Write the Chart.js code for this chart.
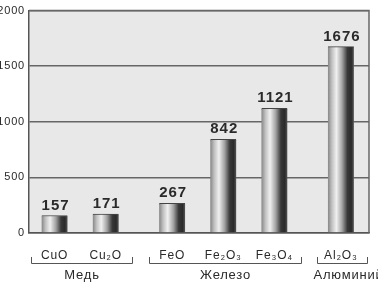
<!DOCTYPE html>
<html>
<head>
<meta charset="utf-8">
<script src="https://cdn.jsdelivr.net/npm/chart.js@4/dist/chart.umd.min.js"></script>
<style>
  html, body { margin: 0; padding: 0; background: #fff; }
  #wrap { width: 378px; height: 282px; position: relative; }
</style>
</head>
<body>
<div id="wrap"><canvas id="chart"></canvas></div>
<script>
/* Oxide bar chart, grouped by metal */

const categories = ['CuO', 'Cu₂O', 'FeO', 'Fe₂O₃', 'Fe₃O₄', 'Al₂O₃'];
const values     = [157, 171, 267, 842, 1121, 1676];
const groupOf    = [0, 0, 1, 1, 1, 2];
const groups     = ['Медь', 'Железо', 'Алюминий'];
const yTicks     = [0, 500, 1000, 1500, 2000];

const GROUP_GAP = 0.3;
const FONT      = '"Liberation Sans", Arial, sans-serif';
const INK       = '#2a2a2a';

// bar slot = index plus a little extra room between metal groups
const positions = categories.map((c, i) => i + GROUP_GAP * groupOf[i]);

function barFill(ctx) {
  const chart = ctx.chart;
  if (!chart.chartArea || !chart.scales.x) return '#999';
  const x = chart.scales.x.getPixelForValue(positions[ctx.dataIndex]);
  const g = chart.ctx.createLinearGradient(x - 13, 0, x + 13, 0);
  g.addColorStop(0.00, '#858585');
  g.addColorStop(0.15, '#c0c0c0');
  g.addColorStop(0.33, '#f0f0f0');
  g.addColorStop(0.55, '#a2a2a2');
  g.addColorStop(0.75, '#383838');
  g.addColorStop(0.90, '#2a2a2a');
  g.addColorStop(1.00, '#575757');
  return g;
}

const plotFrame = {
  id: 'plotFrame',
  beforeDraw(chart) {
    const { ctx, chartArea: a } = chart;
    // the printed labels are slightly tracked out
    ctx.letterSpacing = '0.8px';
    ctx.save();
    ctx.fillStyle = '#e8e8e8';
    ctx.fillRect(a.left, a.top, a.right - a.left, a.bottom - a.top);
    ctx.restore();
  },
  afterDraw(chart) {
    const { ctx, chartArea: a } = chart;
    ctx.save();
    ctx.strokeStyle = '#666';
    ctx.lineWidth = 1.5;
    ctx.beginPath();
    ctx.moveTo(a.left, a.top);
    ctx.lineTo(a.right, a.top);
    ctx.lineTo(a.right, a.bottom);
    ctx.stroke();
    ctx.restore();
  },
};

const valueLabels = {
  id: 'valueLabels',
  afterDatasetsDraw(chart) {
    const { ctx } = chart;
    const meta = chart.getDatasetMeta(0);
    ctx.save();
    ctx.letterSpacing = '1px';
    ctx.font = 'bold 15px ' + FONT;
    ctx.fillStyle = INK;
    ctx.textAlign = 'center';
    ctx.textBaseline = 'alphabetic';
    meta.data.forEach((bar, i) => {
      ctx.fillText(String(values[i]), bar.x + 1, bar.y - 6);
    });
    ctx.restore();
  },
};

const groupBrackets = {
  id: 'groupBrackets',
  afterDraw(chart) {
    const { ctx } = chart;
    const xs = chart.scales.x;
    const y = 263;
    ctx.save();
    ctx.letterSpacing = '0.8px';
    ctx.strokeStyle = '#555';
    ctx.lineWidth = 1;
    ctx.font = '13px ' + FONT;
    ctx.fillStyle = INK;
    ctx.textAlign = 'center';
    ctx.textBaseline = 'middle';
    groups.forEach((name, g) => {
      const idx = positions.filter((p, i) => groupOf[i] === g);
      const x0 = Math.round(xs.getPixelForValue(idx[0] - 0.46)) + 0.5;
      const x1 = Math.round(xs.getPixelForValue(idx[idx.length - 1] + 0.52)) + 0.5;
      ctx.beginPath();
      ctx.moveTo(x0, y - 6);
      ctx.lineTo(x0, y + 0.5);
      ctx.lineTo(x1, y + 0.5);
      ctx.lineTo(x1, y - 6);
      ctx.stroke();
      ctx.fillText(name, (x0 + x1) / 2 + (g === 2 ? 6 : 0), y + 12);
    });
    ctx.restore();
  },
};

new Chart(document.getElementById('chart'), {
  type: 'bar',
  data: {
    datasets: [{
      data: positions.map((p, i) => ({ x: p, y: values[i] })),
      backgroundColor: barFill,
      borderColor: '#444',
      borderWidth: { top: 1, left: 0, right: 0, bottom: 0 },
      borderSkipped: 'bottom',
      barThickness: 26,
    }],
  },
  options: {
    responsive: true,
    maintainAspectRatio: false,
    animation: false,
    layout: { padding: { top: 7, right: 9, left: 0, bottom: 0 } },
    plugins: { legend: { display: false }, tooltip: { enabled: false } },
    scales: {
      x: {
        type: 'linear',
        min: -0.5,
        max: positions[positions.length - 1] + 0.55,
        offset: false,
        grid: { display: false },
        border: { color: '#555', width: 1.5 },
        afterBuildTicks: s => { s.ticks = positions.map(v => ({ value: v })); },
        afterFit: s => { s.height = 49; },
        ticks: {
          autoSkip: false,
          maxRotation: 0,
          padding: 7,
          color: INK,
          font: { family: FONT, size: 12 },
          callback: (v, i) => categories[i],
        },
      },
      y: {
        min: yTicks[0],
        max: yTicks[yTicks.length - 1],
        afterBuildTicks: s => { s.ticks = yTicks.map(v => ({ value: v })); },
        afterFit: s => { s.width = 29; },
        grid: { color: '#666', lineWidth: 1.5, drawTicks: false },
        border: { color: '#555', width: 1.5 },
        ticks: {
          padding: 4,
          color: INK,
          font: { family: FONT, size: 11 },
          callback: v => String(v),
        },
      },
    },
  },
  plugins: [plotFrame, valueLabels, groupBrackets],
});
</script>
</body>
</html>
